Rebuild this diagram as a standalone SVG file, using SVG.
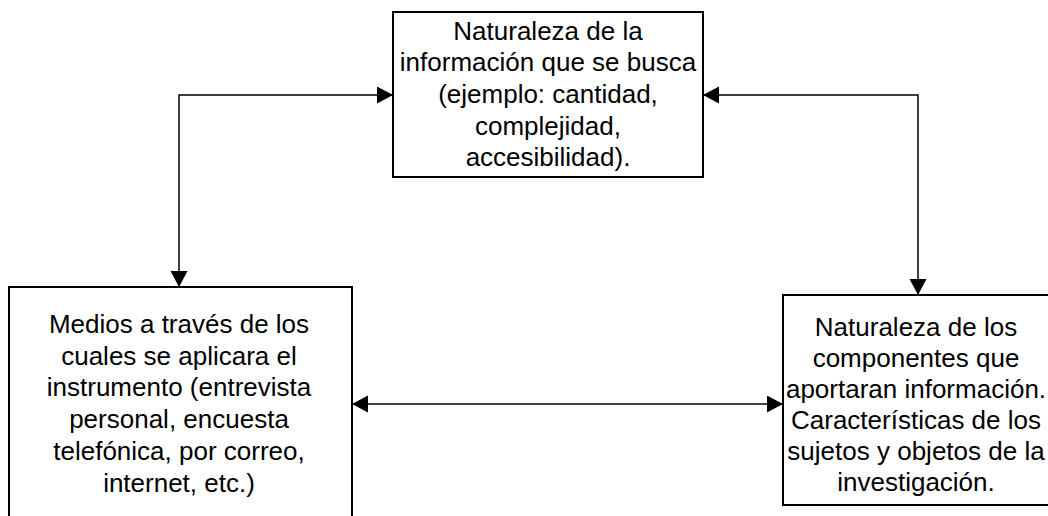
<svg xmlns="http://www.w3.org/2000/svg" width="1048" height="516" viewBox="0 0 1048 516">
<style>
.box{fill:#fff;stroke:#000;stroke-width:2}
.lbl{font-family:"Liberation Sans",Arial,sans-serif;font-size:26px;fill:#000;text-anchor:middle}
.con{fill:none;stroke:#000;stroke-width:1.5}
</style>
<defs>
<marker id="ah" markerUnits="userSpaceOnUse" markerWidth="17" markerHeight="18" refX="16" refY="8.5" orient="auto-start-reverse">
<path d="M0,0 L16,8.5 L0,17 Z" fill="#000"/>
</marker>
</defs>
<rect width="1048" height="516" fill="#fff"/>
<g id="connectors">
<path class="con" d="M393,95 H179 V287" marker-start="url(#ah)" marker-end="url(#ah)"/>
<path class="con" d="M703,95 H918 V295" marker-start="url(#ah)" marker-end="url(#ah)"/>
<path class="con" d="M352,404 H783" marker-start="url(#ah)" marker-end="url(#ah)"/>
</g>
<g id="node-top">
<rect class="box" x="393" y="12" width="310" height="165"/>
<text class="lbl" x="548" y="39.5">Naturaleza de la</text>
<text class="lbl" x="548" y="71.2">información que se busca</text>
<text class="lbl" x="548" y="102.9">(ejemplo: cantidad,</text>
<text class="lbl" x="548" y="134.6">complejidad,</text>
<text class="lbl" x="548" y="166.3">accesibilidad).</text>
</g>
<g id="node-left">
<rect class="box" x="9" y="287" width="343" height="240"/>
<text class="lbl" x="179" y="333">Medios a través de los</text>
<text class="lbl" x="179" y="364.7">cuales se aplicara el</text>
<text class="lbl" x="179" y="396.4">instrumento (entrevista</text>
<text class="lbl" x="179" y="428.1">personal, encuesta</text>
<text class="lbl" x="179" y="459.8">telefónica, por correo,</text>
<text class="lbl" x="179" y="491.5">internet, etc.)</text>
</g>
<g id="node-right">
<rect class="box" x="783" y="295" width="280" height="210"/>
<text class="lbl" x="916" y="335.7">Naturaleza de los</text>
<text class="lbl" x="916" y="366.8">componentes que</text>
<text class="lbl" x="916" y="397.9">aportaran información.</text>
<text class="lbl" x="916" y="429">Características de los</text>
<text class="lbl" x="916" y="460.1">sujetos y objetos de la</text>
<text class="lbl" x="916" y="491.2">investigación.</text>
</g>
</svg>
